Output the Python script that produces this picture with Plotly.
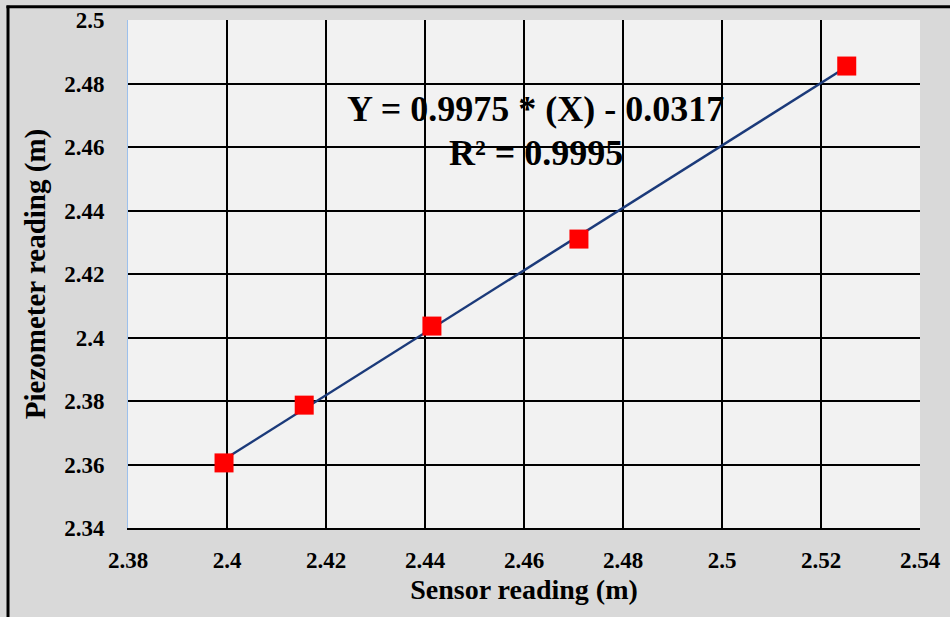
import numpy as np
import plotly.graph_objects as go

sensor = [2.3994, 2.4156, 2.4414, 2.4711, 2.5252]
piezo = [2.3605, 2.3787, 2.4036, 2.4310, 2.4855]
x_ticks = [2.38, 2.40, 2.42, 2.44, 2.46, 2.48, 2.50, 2.52, 2.54]
x_tick_labels = ["2.38", "2.4", "2.42", "2.44", "2.46", "2.48", "2.5", "2.52", "2.54"]
y_ticks = [2.34, 2.36, 2.38, 2.40, 2.42, 2.44, 2.46, 2.48, 2.50]
y_tick_labels = ["2.34", "2.36", "2.38", "2.4", "2.42", "2.44", "2.46", "2.48", "2.5"]
eq_text = "Y = 0.9975 * (X) - 0.0317"
r2_text = "R² = 0.9995"

coef = np.polyfit(sensor, piezo, 1)
fit_x = [min(sensor), max(sensor)]
fit_y = [coef[0] * v + coef[1] for v in fit_x]

FONT = "Liberation Serif"

fig = go.Figure()
fig.add_trace(go.Scatter(x=fit_x, y=fit_y, mode="lines",
                         line=dict(color="#1b3a7a", width=2.5), showlegend=False))
fig.add_trace(go.Scatter(x=sensor, y=piezo, mode="markers",
                         marker=dict(symbol="square", size=19, color="#ff0000",
                                     line=dict(width=0)), showlegend=False))

fig.update_layout(
    width=950, height=617,
    margin=dict(l=128, r=30, t=20, b=89),
    paper_bgcolor="#d9d9d9",
    plot_bgcolor="#f2f2f2",
    font=dict(family=FONT, color="black", size=22),
    annotations=[
        dict(text="<b>" + eq_text + "</b>", x=0.515, y=0.825, xref="paper", yref="paper",
             showarrow=False, xanchor="center", yanchor="middle",
             font=dict(family=FONT, size=36, color="black")),
        dict(text="<b>" + r2_text + "</b>", x=0.515, y=0.738, xref="paper", yref="paper",
             showarrow=False, xanchor="center", yanchor="middle",
             font=dict(family=FONT, size=36, color="black")),
    ],
    shapes=[
        dict(type="line", xref="paper", yref="paper", x0=-0.1515, x1=-0.1515,
             y0=1.028, y1=-0.18, line=dict(color="black", width=3)),
        dict(type="line", xref="paper", yref="paper", x0=-0.1535, x1=1.04,
             y0=1.026, y1=1.026, line=dict(color="black", width=3)),
    ],
)
fig.update_xaxes(range=[2.38, 2.54], tickmode="array", tickvals=x_ticks,
                 ticktext=x_tick_labels,
                 showgrid=True, gridcolor="black", gridwidth=1.5,
                 showline=True, linecolor="black", linewidth=2,
                 zeroline=False, ticks="outside", ticklen=10, tickcolor="rgba(0,0,0,0)",
                 tickfont=dict(family=FONT, size=23, color="black", weight="bold"),
                 title=dict(text="<b>Sensor reading (m)</b>", standoff=8,
                            font=dict(family=FONT, size=28, color="black")),
                 automargin=False)
fig.update_yaxes(range=[2.34, 2.50], tickmode="array", tickvals=y_ticks,
                 ticktext=y_tick_labels,
                 showgrid=True, gridcolor="black", gridwidth=1.5,
                 showline=True, linecolor="#9cc0ec", linewidth=1,
                 zeroline=False, ticks="outside", ticklen=18, tickcolor="rgba(0,0,0,0)",
                 tickfont=dict(family=FONT, size=23, color="black", weight="bold"),
                 title=dict(text="<b>Piezometer reading (m)</b>", standoff=10,
                            font=dict(family=FONT, size=29, color="black")),
                 automargin=False)

fig.write_html("out.html")
